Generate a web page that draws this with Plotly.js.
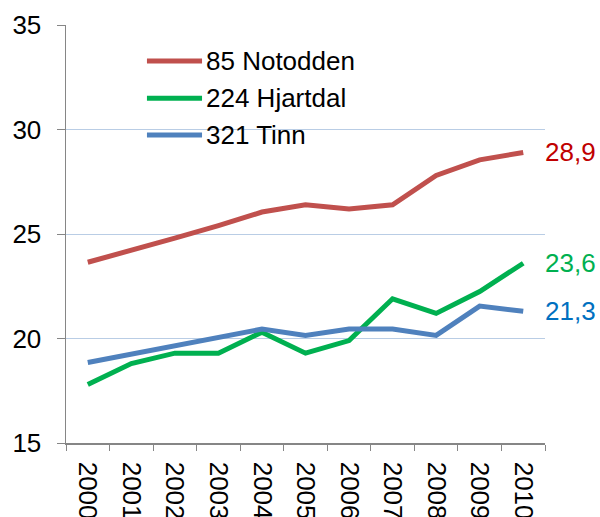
<!DOCTYPE html>
<html>
<head>
<meta charset="utf-8">
<script src="https://cdn.plot.ly/plotly-3.0.1.min.js"></script>
<style>html,body{margin:0;padding:0;background:#fff;}#chart{width:600px;height:517px;}</style>
</head>
<body>
<div id="chart"></div>
<script>
const years = ['2000','2001','2002','2003','2004','2005','2006','2007','2008','2009','2010'];
const notodden = [23.65, 24.2, 24.8, 25.4, 26.05, 26.4, 26.2, 26.4, 27.8, 28.55, 28.9];
const hjartdal = [17.8, 18.8, 19.3, 19.3, 20.3, 19.3, 19.9, 21.9, 21.2, 22.25, 23.6];
const tinn = [18.85, 19.25, 19.65, 20.0, 20.45, 20.15, 20.45, 20.45, 20.15, 21.55, 21.3];
const seriesNames = ['85 Notodden', '224 Hjartdal', '321 Tinn'];
const endLabels = ['28,9', '23,6', '21,3'];

const lineColors = ['#C0504D', '#00B050', '#4F81BD'];
const labelColors = ['#C00000', '#00B050', '#0070C0'];
const font = 'Liberation Sans, Arial, sans-serif';
const FS = 26;
const allSeries = [notodden, hjartdal, tinn];

const traces = allSeries.map((vals, i) => ({
  x: years, y: vals, type: 'scatter', mode: 'lines', name: seriesNames[i],
  line: {color: lineColors[i], width: 5}, showlegend: false
}));

// end-of-line value labels (category index of last year)
const lastIdx = years.length - 1;
const annotations = allSeries.map((vals, i) => ({
  x: lastIdx, y: vals[vals.length - 1], xref: 'x', yref: 'y',
  text: endLabels[i], showarrow: false, xanchor: 'left', yanchor: 'middle',
  xshift: 20, font: {family: font, size: FS, color: labelColors[i]}
}));

// manual legend (line sample + label)
const legendY = [0.914, 0.825, 0.737];
const shapes = [];
seriesNames.forEach((name, i) => {
  shapes.push({type: 'line', xref: 'paper', yref: 'paper', x0: 0.169, x1: 0.284,
    y0: legendY[i], y1: legendY[i], line: {color: lineColors[i], width: 5}});
  annotations.push({xref: 'paper', yref: 'paper', x: 0.288, y: legendY[i], text: name,
    showarrow: false, xanchor: 'left', yanchor: 'middle',
    font: {family: font, size: FS, color: '#000'}});
});

const layout = {
  width: 600, height: 517,
  margin: {l: 66, r: 55, t: 25, b: 74},
  paper_bgcolor: '#fff', plot_bgcolor: '#fff',
  font: {family: font, size: FS, color: '#000'},
  showlegend: false,
  xaxis: {
    type: 'category', tickangle: 90, tickson: 'boundaries', ticks: 'outside', ticklen: 6,
    tickcolor: '#868686', showline: true, linecolor: '#868686', linewidth: 1.5,
    showgrid: false, zeroline: false, tickfont: {family: font, size: FS, color: '#000'},
    range: [-0.5, 10.5], ticklabelstandoff: 12
  },
  yaxis: {
    range: [15, 35], dtick: 5, ticks: 'outside', ticklen: 8, tickcolor: '#868686',
    showline: true, linecolor: '#868686', linewidth: 1.5,
    showgrid: true, gridcolor: '#B9CDE5', gridwidth: 1, zeroline: false,
    tickfont: {family: font, size: FS, color: '#000'}, ticklabelstandoff: 10
  },
  shapes: shapes,
  annotations: annotations
};

Plotly.newPlot('chart', traces, layout, {displayModeBar: false, staticPlot: true});
</script>
</body>
</html>
